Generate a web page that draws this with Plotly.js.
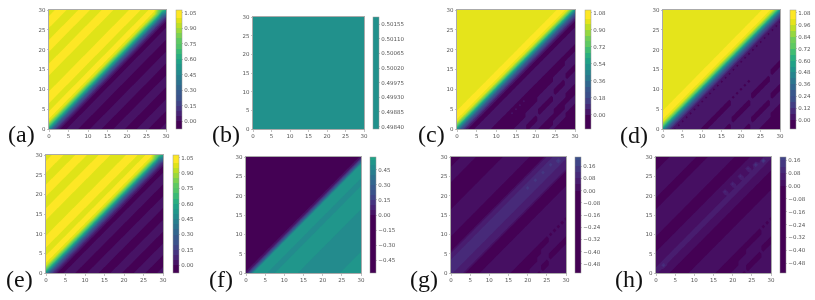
<!DOCTYPE html>
<html><head><meta charset="utf-8">
<script src="https://cdn.plot.ly/plotly-3.0.1.min.js"></script>
<style>html,body{margin:0;padding:0;background:#fff}#g{width:815px;height:300px;filter:blur(.35px)}</style></head>
<body><div id="g"></div><script>
// Colour value along each diagonal of the panel: offset y-x = -30 ... 30
const profA=[.02,.02,-.02,-.02,-.02,.02,.02,.02,-.02,-.02,-.02,.02,.02,.02,-.02,-.02,-.02,.02,.02,.02,-.02,-.02,-.02,.02,.02,.02,-.02,-.01,.09,.26,.52,.78,.97,1.02,1.02,.98,.98,1.02,1.02,1.02,.98,.98,.98,.98,1.02,1.02,1.02,.98,.98,.98,1.02,1.02,1.02,.98,.98,.98,1.02,1.02,1.02,.98,.98];
const profB=[.5,.5,.5,.5,.5,.5,.5,.5,.5,.5,.5,.5,.5,.5,.5,.5,.5,.5,.5,.5,.5,.5,.5,.5,.5,.5,.5,.5,.5,.5,.5,.5,.5,.5,.5,.5,.5,.5,.5,.5,.5,.5,.5,.5,.5,.5,.5,.5,.5,.5,.5,.5,.5,.5,.5,.5,.5,.5,.5,.5,.5];
const profC=[-.02,-.02,-.02,.03,.03,-.02,-.02,-.02,.03,.03,.03,-.02,-.02,.03,.03,.03,-.02,-.02,-.02,-.02,-.02,-.02,.03,.03,.03,.03,-.02,-.02,.08,.25,.5,.8,1.0,1.04,1.04,1.01,.99,.99,.99,.99,.99,.99,.99,.99,.99,.99,.99,.99,.99,.99,.99,.99,.99,.99,.99,.99,.99,.99,.99,.99,.99];
const profD=[-.02,-.02,-.02,.03,.03,.03,-.02,-.02,.03,.03,.03,.03,-.02,-.02,.03,.03,.03,.03,-.02,-.02,-.02,.03,.03,.03,.03,.03,.03,-.02,.08,.25,.5,.8,1.0,1.04,1.04,1.01,.99,.99,.99,.99,.99,.99,.99,.99,.99,.99,.99,.99,.99,.99,.99,.99,.99,.99,.99,.99,.99,.99,.99,.99,.99];
const profE=[.02,.02,-.02,-.02,-.02,.02,.02,.02,-.02,-.02,-.02,.02,.02,.02,-.02,-.02,-.02,.02,.02,.02,-.02,-.02,-.02,.02,.02,.02,-.02,-.01,.08,.24,.5,.78,.97,1.02,1.02,.98,.98,1.02,1.02,1.02,.98,.98,.98,.98,1.02,1.02,1.02,.98,.98,.98,1.02,1.02,1.02,.98,.98,.98,1.02,1.02,1.02,.98,.98];
const profF=[.53,.53,.53,.53,.53,.53,.47,.47,.47,.47,.47,.47,.47,.47,.47,.47,.47,.53,.53,.53,.53,.53,.53,.47,.47,.53,.53,.53,.53,.25,.02,-.02,-.02,-.02,-.02,-.02,-.02,-.02,-.02,-.02,-.02,-.02,-.02,-.02,-.02,-.02,-.02,-.02,-.02,-.02,-.02,-.02,-.02,-.02,-.02,-.02,-.02,-.02,-.02,-.02,-.02];
const profG=[.02,.02,.02,.02,-.02,-.02,.02,.02,.02,.02,-.02,-.02,-.02,-.02,-.02,.02,.02,.02,.02,.02,.02,.02,.02,-.02,-.02,-.02,-.02,.05,.05,.06,.10,.10,.10,.10,.06,.05,-.02,-.02,-.02,-.02,.02,.02,.02,.02,.02,.02,.02,-.02,-.02,-.02,-.02,-.02,-.02,-.02,.02,.02,.02,.02,-.02,-.02,-.02];
const profH=[.02,.02,.02,.02,-.02,-.02,.02,.02,.02,.02,-.02,-.02,-.02,-.02,-.02,.02,.02,.02,.02,.02,.02,.02,-.02,-.02,-.02,-.02,-.02,.02,.02,.03,.05,.05,.03,.02,.02,.02,-.02,-.02,-.02,-.02,.02,.02,.02,.02,.02,.02,.02,-.02,-.02,-.02,.02,.02,.02,.02,.02,.02,.02,-.02,-.02,-.02,-.02];
// How far the wavy lower stripes lean, per x = 0 ... 30, and the offset below which they lean
const waveC=[0,0,0,0,0,0,0,0,0,0,0,0,0,0,0,0,0,0,1,1,1,2,2,2,2,3,3,3,4,4,4];
const waveD=[0,0,0,0,0,0,0,0,0,0,0,0,1,1,1,1,1,1,2,2,2,2,2,3,3,3,3,3,4,4,4];
const waveG=[0,0,0,0,0,0,0,0,0,0,0,0,0,0,0,0,0,0,0,0,0,1,1,2,3,3,4,4,4,4,4];
const waveH=[0,0,0,0,0,0,0,0,0,0,0,0,0,1,1,1,1,1,1,1,1,1,2,2,3,3,3,3,4,4,4];
const waves=[null,null,waveC,waveD,null,null,waveG,waveH];
const waveBelow=[0,0,-9,-9,0,0,-16,-16];
// Isolated spots on the grid: x, y, value
const spotsA=[[28,30,.85],[29,30,.72],[30,30,.6],[29,29,.45],[30,29,.35]];
const spotsC=[[14,4,.008],[15,5,.008],[16,6,.008],[17,7,.008]];
const spotsE=[[28,30,.85],[29,30,.72],[30,30,.6],[29,29,.45],[30,29,.35]];
const spotsG=[[20,22,.14],[22,24,.14],[24,26,.14],[26,28,.14],[28,29,.18]];
const spotsH=[[2,2,.14],[18,21,.1],[20,23,.1],[22,25,.1],[24,27,.1],[26,28,.14],[28,29,.18]];
const labels=['(a)','(b)','(c)','(d)','(e)','(f)','(g)','(h)'];
const tickXY=[0,5,10,15,20,25,30];
// colour levels: start, end, step; colour bar ticks: first, step, decimals
const levels=[[-.05,1.05,.05],[.4984,.5017,.00015],[-.12,1.08,.06],[-.06,1.08,.06],[-.05,1.05,.05],[-.55,.55,.05],[-.52,.2,.04],[-.52,.16,.04]];
const barTicks=[[0,.15,2],[.4984,.00045,5],[0,.18,2],[0,.12,2],[0,.15,2],[-.45,.15,2],[-.48,.08,2],[-.48,.08,2]];
const viridis=['#440154','#471365','#482475','#463480','#414487','#3b528b','#355f8d','#2f6c8e','#2a788e','#25848e','#21918c','#1e9c89','#22a884','#2fb47c','#44bf70','#5ec962','#7ad151','#9bd93c','#bddf26','#dfe318','#fde725'];

function hexRgb(h){return [1,3,5].map(i=>parseInt(h.substr(i,2),16));}
function viridisAt(v){
  const t=Math.max(0,Math.min(1,v))*(viridis.length-1),i=Math.min(Math.floor(t),viridis.length-2),f=t-i;
  const a=hexRgb(viridis[i]),b=hexRgb(viridis[i+1]);
  return 'rgb('+a.map((c,j)=>Math.round(c+(b[j]-c)*f)).join(',')+')';
}
// One colour per band from viridis over 0..1, values outside clipped; the end bands take their inner edge
function bandScale(lv){
  const s=lv[0],e=lv[1],c=lv[2],n=Math.round((e-s)/c),lo=s-c/2,hi=e+c/2,out=[];
  for(let k=-1;k<=n;k++){
    const m=s+(k+.5)*c,v=m<.25?m+c/2:(m>.75?m-c/2:m);
    out.push([Math.max(0,Math.min(1,(m-lo)/(hi-lo))),viridisAt(v)]);
  }
  out[0][0]=0;out[out.length-1][0]=1;
  return out;
}
const profs=[profA,profB,profC,profD,profE,profF,profG,profH];
const spots=[spotsA,[],spotsC,[],spotsE,[],spotsG,spotsH];
// pixel boxes: plot left, right, top, bottom, bar left
const boxes=[[49,166,10,129,176],[253,364,17,129,373],[457,575,10,129,585],[663,780,10,129,790],[46,163,155,273,173],[246,361,157,273,370],[451,566,157,273,575],[656,771,157,273,780]];
const labelPos=[[6,134],[210,134],[416,134],[618,135],[4,279],[207,279],[408,279],[613,279]];
const W=815,H=300;
const grid=Array.from({length:31},(_,i)=>i);
const traces=[],layout={width:W,height:H,margin:{l:0,r:0,t:0,b:0},paper_bgcolor:'#fff',plot_bgcolor:'#fff',showlegend:false,
  font:{family:'DejaVu Sans',size:5.5,color:'#555'},annotations:[]};
profs.forEach((p,k)=>{
  const z=grid.map(y=>grid.map(x=>{
    let d=y-x;
    if(waves[k]&&d<waveBelow[k])d=Math.max(-30,d-waves[k][x]);
    return p[d+30];
  }));
  spots[k].forEach(s=>{z[s[1]][s[0]]=s[2];});
  const b=boxes[k],n=k?String(k+1):'';
  traces.push({type:'contour',x:grid,y:grid,z:z,xaxis:'x'+n,yaxis:'y'+n,autocontour:false,
    contours:{start:levels[k][0],end:levels[k][1]+levels[k][2]*1e-6,size:levels[k][2],coloring:'fill',showlines:false},
    line:{width:0,smoothing:0},colorscale:bandScale(levels[k]),hoverinfo:'skip',
    colorbar:{x:b[4]/W,xanchor:'left',xpad:0,ypad:0,y:1-(b[2]+b[3])/2/H,yanchor:'middle',len:(b[3]-b[2])/H,lenmode:'fraction',
      thickness:6,thicknessmode:'pixels',outlinecolor:'#999',outlinewidth:.5,ticks:'outside',ticklen:1.5,tickwidth:.5,tickcolor:'#888',
      tick0:barTicks[k][0],dtick:barTicks[k][1],tickformat:'.'+barTicks[k][2]+'f',tickfont:{family:'DejaVu Sans',size:5.5,color:'#555'}}});
  const ax={range:[0,30],tickvals:tickXY,ticks:'outside',ticklen:1.5,tickwidth:.5,tickcolor:'#888',showgrid:false,zeroline:false,
    showline:true,mirror:true,linecolor:'#aaa',linewidth:1,tickfont:{family:'DejaVu Sans',size:5.5,color:'#555'}};
  layout['xaxis'+n]=Object.assign({},ax,{domain:[b[0]/W,b[1]/W],anchor:'y'+n});
  layout['yaxis'+n]=Object.assign({},ax,{domain:[1-b[3]/H,1-b[2]/H],anchor:'x'+n});
  layout.annotations.push({text:labels[k],xref:'paper',yref:'paper',x:labelPos[k][0]/W,y:1-labelPos[k][1]/H,xanchor:'left',yanchor:'middle',showarrow:false,
    font:{family:'Liberation Serif',size:24,color:'#111'}});
});
Plotly.newPlot('g',traces,layout,{displayModeBar:false,staticPlot:true});
</script></body></html>
